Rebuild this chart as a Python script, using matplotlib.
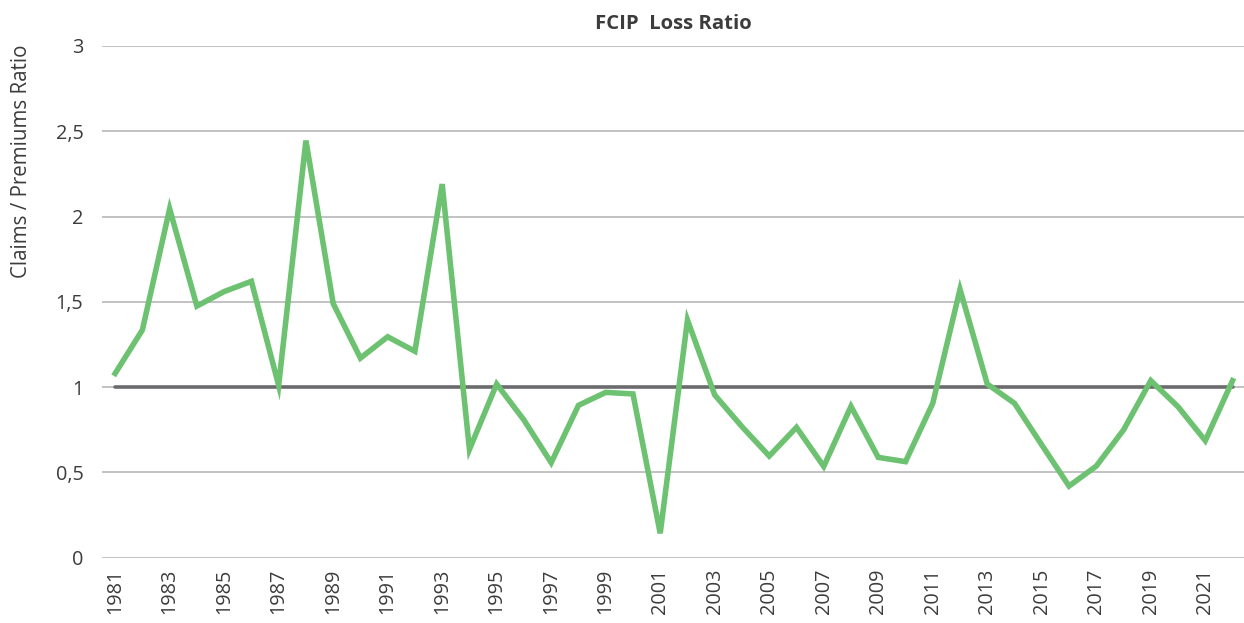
import numpy as np
import matplotlib
matplotlib.use('Agg')
import matplotlib.pyplot as plt
from matplotlib import rcParams
from matplotlib.ticker import FuncFormatter

rcParams['font.family'] = ['Open Sans', 'DejaVu Sans']

years = list(range(1981, 2023))
loss_ratio = [1.08, 1.335, 2.045, 1.475, 1.56, 1.62, 1.01, 2.445, 1.49, 1.17,
              1.295, 1.21, 2.19, 0.635, 1.018, 0.807, 0.557, 0.893, 0.969, 0.96,
              0.143, 1.393, 0.954, 0.768, 0.596, 0.764, 0.535, 0.887, 0.588, 0.563,
              0.905, 1.573, 1.018, 0.905, 0.661, 0.42, 0.537, 0.749, 1.038, 0.885,
              0.686, 1.038]
break_even = [1.0] * len(years)
year_ticks = list(range(1981, 2022, 2))

fig = plt.figure(figsize=(12.44, 6.23), dpi=100)
ax = fig.add_axes([101.5 / 1244, 65.3 / 623, 1 - 101.5 / 1244, 511.8 / 623])

ax.plot(years, break_even, color='#6b6b6d', lw=2.6, solid_capstyle='round', zorder=2)
ax.plot(years, loss_ratio, color='#6cc270', lw=4.0, solid_joinstyle='miter', zorder=3)

ax.set_xlim(1980.5, 2022.42)
ax.set_ylim(0, 3)
ax.set_yticks(np.arange(0, 3.01, 0.5))
ax.yaxis.set_major_formatter(FuncFormatter(lambda v, p: f"{v:g}".replace('.', ',')))
ax.set_xticks(year_ticks)
ax.set_xticklabels([str(y) for y in year_ticks], rotation=90)

ax.grid(axis='y', color='#bdbdbd', lw=1.3)
ax.set_axisbelow(True)
for s in ax.spines.values():
    s.set_visible(False)
ax.tick_params(length=0, labelsize=14.3, labelcolor='#3c3c3c')
ax.tick_params(axis='y', pad=13)
ax.tick_params(axis='x', pad=8)

ax.set_ylabel('Claims / Premiums Ratio', fontsize=14.8, color='#3c3c3c')
ax.yaxis.set_label_coords(-0.061, 0.775)
fig.text(0.541, 0.962, 'FCIP  Loss Ratio', ha='center', va='center',
         fontsize=14.6, fontweight='bold', color='#3c3c3c')

fig.savefig('out.png', dpi=100)
